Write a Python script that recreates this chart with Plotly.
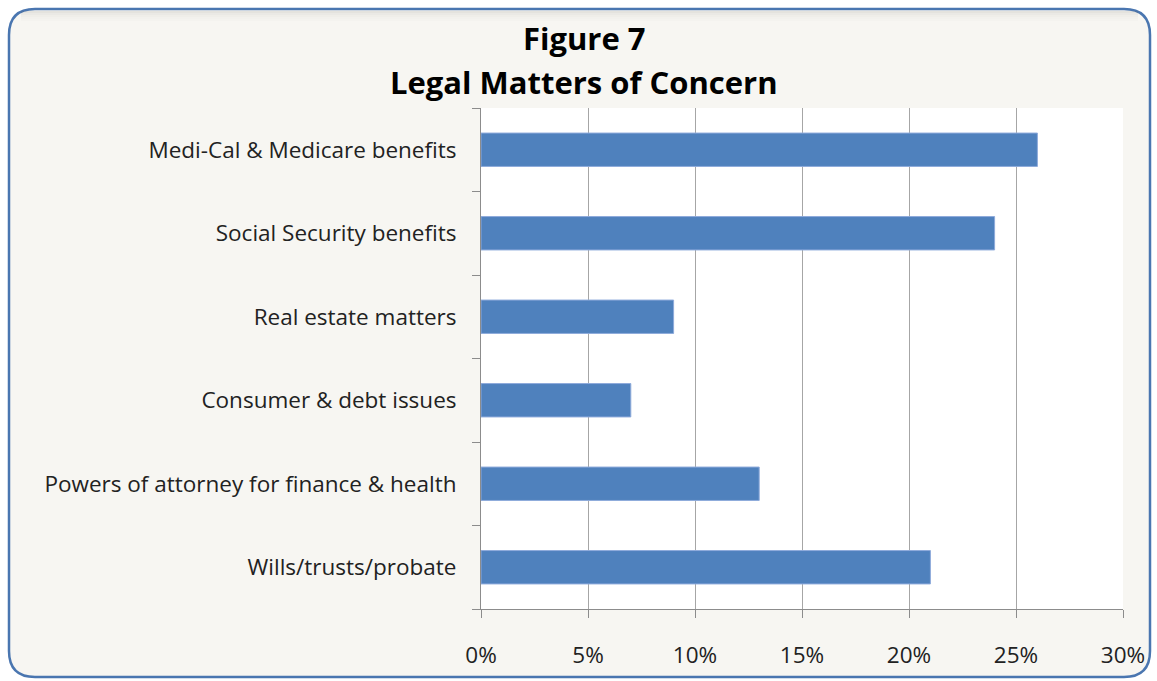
import plotly.graph_objects as go

# Survey results: share of respondents naming each legal matter
categories = [
    "Medi-Cal & Medicare benefits",
    "Social Security benefits",
    "Real estate matters",
    "Consumer & debt issues",
    "Powers of attorney for finance & health",
    "Wills/trusts/probate",
]
shares = [26, 24, 9, 7, 13, 21]
x_ticks = [0, 5, 10, 15, 20, 25, 30]
x_tick_labels = ["0%", "5%", "10%", "15%", "20%", "25%", "30%"]

W, H = 1157, 681
L, R, T, B = 481, 1123, 108, 609  # plot area in pixels

def px(x):
    return (x - L) / (R - L)

def py(y):
    return (B - y) / (B - T)

FONT = "'Open Sans', Lato, sans-serif"

fig = go.Figure(
    go.Bar(
        x=shares,
        y=categories,
        orientation="h",
        marker=dict(color="#4F81BD", line=dict(color="#8EAADB", width=1)),
        width=0.4,
    )
)

# rounded frame around the whole chart
x0, x1, y0, y1, r = 9, 1150, 9, 677, 26
frame = (
    f"M {px(x0 + r)},{py(y0)} L {px(x1 - r)},{py(y0)} "
    f"Q {px(x1)},{py(y0)} {px(x1)},{py(y0 + r)} "
    f"L {px(x1)},{py(y1 - r)} Q {px(x1)},{py(y1)} {px(x1 - r)},{py(y1)} "
    f"L {px(x0 + r)},{py(y1)} Q {px(x0)},{py(y1)} {px(x0)},{py(y1 - r)} "
    f"L {px(x0)},{py(y0 + r)} Q {px(x0)},{py(y0)} {px(x0 + r)},{py(y0)} Z"
)
shapes = [
    dict(type="path", path=frame, xref="paper", yref="paper", layer="below",
         fillcolor="#F7F6F2", line=dict(color="#4A76B0", width=2.5)),
]
# soft inner shading along the top edge
for i, op in enumerate([0.12, 0.08, 0.05, 0.03, 0.015]):
    shapes.append(dict(type="line", xref="paper", yref="paper", layer="below",
                       x0=px(x0 + 12), x1=px(x1 - 12),
                       y0=py(y0 + 3 + i * 2), y1=py(y0 + 3 + i * 2),
                       line=dict(color=f"rgba(90,90,80,{op})", width=2)))
# white plotting area
shapes.append(dict(type="rect", xref="paper", yref="paper", layer="below",
                   x0=0, x1=1, y0=0, y1=1, fillcolor="#FFFFFF",
                   line=dict(width=0)))

annotations = [
    dict(text="<b>Figure 7</b>", x=px(584), y=py(38), xref="paper", yref="paper",
         xanchor="center", yanchor="middle", showarrow=False,
         font=dict(family=FONT, size=31, color="#000000")),
    dict(text="<b>Legal Matters of Concern</b>", x=px(584), y=py(82), xref="paper",
         yref="paper", xanchor="center", yanchor="middle", showarrow=False,
         font=dict(family=FONT, size=31, color="#000000")),
]

fig.update_layout(
    width=W,
    height=H,
    margin=dict(l=L, r=W - R, t=T, b=H - B, pad=0),
    paper_bgcolor="#FFFFFF",
    plot_bgcolor="#FFFFFF",
    showlegend=False,
    shapes=shapes,
    annotations=annotations,
    font=dict(family=FONT, size=22.5, color="#222222"),
    xaxis=dict(
        range=[0, 30],
        tickvals=x_ticks,
        ticktext=x_tick_labels,
        showgrid=True,
        gridcolor="#A6A6A6",
        gridwidth=1,
        showline=True,
        linecolor="#8C8C8C",
        linewidth=1,
        ticks="outside",
        ticklen=8,
        tickcolor="#8C8C8C",
        zeroline=False,
        tickfont=dict(size=22.5),
        ticklabelstandoff=18,
    ),
    yaxis=dict(
        categoryorder="array",
        categoryarray=categories[::-1],
        tickson="boundaries",
        ticks="outside",
        ticklen=8,
        tickcolor="#8C8C8C",
        showline=True,
        linecolor="#8C8C8C",
        linewidth=1,
        showgrid=False,
        tickfont=dict(size=22.5),
        ticklabelstandoff=19,
    ),
    bargap=0.6,
)

fig.write_html("out.html")
